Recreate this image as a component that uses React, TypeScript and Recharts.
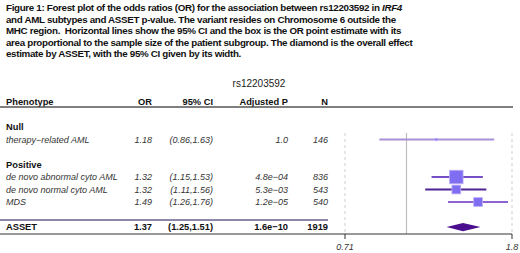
import {
  Area,
  ComposedChart,
  ErrorBar,
  ReferenceLine,
  Scatter,
  XAxis,
  YAxis,
} from "recharts";

// subgroup rows
const groups = ["Null", "Positive"];
const groupMembers = [1, 3]; // how many phenotypes belong to each group
const phenotypes = [
  "therapy\u2212related AML",
  "de novo abnormal cyto AML",
  "de novo normal cyto AML",
  "MDS",
];
const oddsRatios = [1.18, 1.32, 1.32, 1.49];
const ciLower = [0.86, 1.15, 1.11, 1.26];
const ciUpper = [1.63, 1.53, 1.56, 1.76];
const adjustedP = ["1.0", "4.8e\u221204", "5.3e\u221203", "1.2e\u221205"];
const sampleN = [146, 836, 543, 540];

// overall ASSET estimate
const assetLabel = "ASSET";
const assetOR = 1.37;
const assetLower = 1.25;
const assetUpper = 1.51;
const assetP = "1.6e\u221210";
const assetN = 1919;

const snpName = "rs12203592";
const headers = ["Phenotype", "OR", "95% CI", "Adjusted P", "N"];
const xTicks = [0.71, 1.8];

const lineColors = ["#a890d8", "#7550c4", "#4f2394", "#8b64d2"];
const FONT = "'Liberation Sans', Arial, sans-serif";
const COLS = [6, 152, 213, 288, 328];
const BOX_PER_N = 13.5 / 836;
const DIAMOND_H = 0.33;

type Row = { pos: number; kind: string; cells: string[] };

// lay rows out top to bottom
const rows: Row[] = [];
const items: { x: number; y: number; n: number; err: number[]; i: number }[] = [];
rows.push({ pos: -3.5, kind: "snp", cells: [snpName] });
rows.push({ pos: -2, kind: "header", cells: headers });
let pos = 0;
let k = 0;
groups.forEach((g, gi) => {
  rows.push({ pos, kind: "group", cells: [g] });
  pos++;
  for (let j = 0; j < groupMembers[gi]; j++, k++) {
    rows.push({
      pos,
      kind: "item",
      cells: [
        phenotypes[k],
        oddsRatios[k].toFixed(2),
        `(${ciLower[k].toFixed(2)},${ciUpper[k].toFixed(2)})`,
        adjustedP[k],
        String(sampleN[k]),
      ],
    });
    items.push({
      x: oddsRatios[k],
      y: pos,
      n: sampleN[k],
      err: [oddsRatios[k] - ciLower[k], ciUpper[k] - oddsRatios[k]],
      i: k,
    });
    pos++;
  }
  pos++;
});
const assetPos = pos;
rows.push({
  pos: assetPos,
  kind: "summary",
  cells: [
    assetLabel,
    assetOR.toFixed(2),
    `(${assetLower.toFixed(2)},${assetUpper.toFixed(2)})`,
    assetP,
    String(assetN),
  ],
});

const diamond = [
  { x: assetLower, band: [assetPos, assetPos] },
  { x: assetOR, band: [assetPos - DIAMOND_H, assetPos + DIAMOND_H] },
  { x: assetUpper, band: [assetPos, assetPos] },
];

const yTop = 0.48;
const yBottom = assetPos + 0.56;

function RowTick(props: any) {
  const { y, payload } = props;
  const row = rows.find((r) => r.pos === payload.value);
  if (!row) return null;
  if (row.kind === "snp") {
    return (
      <text x={259} y={y} dy="0.35em" textAnchor="middle" fontSize={10} fill="#222" fontFamily={FONT}>
        {row.cells[0]}
      </text>
    );
  }
  const bold = row.kind !== "item";
  const italic = row.kind === "item";
  return (
    <g>
      {row.kind === "summary" && (
        <line x1={0} x2={328} y1={y - 7} y2={y - 7} stroke="#8e87a8" strokeWidth={2} />
      )}
      {row.cells.map((c, i) => (
        <text
          key={i}
          x={COLS[i]}
          y={y}
          dy="0.35em"
          textAnchor={i === 0 ? "start" : "end"}
          fontSize={bold ? 9.3 : 9}
          fontWeight={bold ? "bold" : "normal"}
          fontStyle={italic ? "italic" : "normal"}
          fill={italic ? "#333" : "#111"}
          fontFamily={FONT}
        >
          {c}
        </text>
      ))}
      {row.kind === "header" && (
        <line x1={0} x2={513} y1={y + 5} y2={y + 5} stroke="#555" strokeWidth={1.5} />
      )}
      {row.kind === "summary" && (
        <line x1={0} x2={345} y1={y + 7} y2={y + 7} stroke="#333" strokeWidth={1.2} />
      )}
    </g>
  );
}

function Box(props: any) {
  const { cx, cy, payload } = props;
  const s = payload.n * BOX_PER_N;
  return (
    <rect
      x={cx - s / 2}
      y={cy - s / 2}
      width={s}
      height={s}
      fill="#7f6df2"
      stroke="#bcaff7"
      strokeWidth={0.8}
    />
  );
}

export default function App() {
  return (
    <div
      style={{
        position: "absolute",
        left: 0,
        top: 0,
        width: 520,
        height: 253,
        background: "#fff",
        overflow: "hidden",
      }}
    >
      <div
        style={{
          position: "absolute",
          left: 6,
          top: 2,
          width: 514,
          whiteSpace: "nowrap",
          fontFamily: FONT,
          fontWeight: "bold",
          fontSize: 9.8,
          letterSpacing: "-0.33px",
          lineHeight: "11.5px",
          color: "#111",
        }}
      >
        Figure 1: Forest plot of the odds ratios (OR) for the association between rs12203592 in{" "}
        <i>IRF4</i>
        <br />
        and AML subtypes and ASSET p-value. The variant resides on Chromosome 6 outside the
        <br />
        MHC region.&nbsp; Horizontal lines show the 95% CI and the box is the OR point estimate with its
        <br />
        area proportional to the sample size of the patient subgroup. The diamond is the overall effect
        <br />
        estimate by ASSET, with the 95% CI given by its width.
      </div>
      <ComposedChart
        width={520}
        height={253}
        margin={{ top: 82, right: 8, bottom: 0, left: 0 }}
        style={{ position: "absolute", left: 0, top: 0 }}
      >
        <XAxis
          type="number"
          dataKey="x"
          scale="log"
          domain={[xTicks[0], xTicks[xTicks.length - 1]]}
          ticks={xTicks}
          allowDataOverflow
          height={19}
          tickSize={5}
          tickMargin={5}
          stroke="#333"
          tick={{ fontSize: 9, fontStyle: "italic", fill: "#333", fontFamily: FONT }}
        />
        <YAxis
          type="number"
          dataKey="y"
          reversed
          width={345}
          domain={[-3.6, yBottom]}
          ticks={rows.map((r) => r.pos)}
          interval={0}
          allowDataOverflow
          axisLine={false}
          tickLine={false}
          tick={<RowTick />}
        />
        {xTicks.map((t) => (
          <ReferenceLine
            key={t}
            segment={[
              { x: t, y: yTop },
              { x: t, y: yBottom },
            ]}
            stroke="#cfcfcf"
            strokeDasharray="3 3"
            ifOverflow="visible"
          />
        ))}
        <ReferenceLine
          segment={[
            { x: 1, y: yTop },
            { x: 1, y: yBottom },
          ]}
          stroke="#bdbdbd"
          strokeWidth={1.2}
          ifOverflow="visible"
        />
        {items.map((it) => (
          <Scatter key={it.i} data={[it]} shape={<Box />} isAnimationActive={false}>
            <ErrorBar
              dataKey="err"
              direction="x"
              width={0}
              stroke={lineColors[it.i]}
              strokeWidth={2}
              isAnimationActive={false}
            />
          </Scatter>
        ))}
        <Area
          data={diamond}
          dataKey="band"
          type="linear"
          stroke="none"
          fill="#4a0e8f"
          fillOpacity={1}
          isAnimationActive={false}
        />
      </ComposedChart>
    </div>
  );
}
